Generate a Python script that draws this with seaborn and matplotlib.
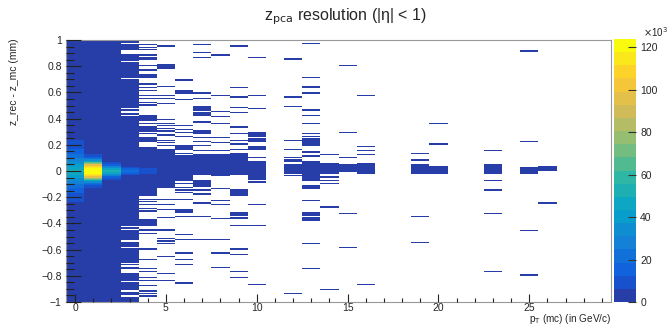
import numpy as np
import pandas as pd
import seaborn as sns
import matplotlib
matplotlib.use("Agg")
import matplotlib.pyplot as plt
from matplotlib.colors import ListedColormap
from matplotlib.ticker import MultipleLocator, FuncFormatter

# binning: pT 1 GeV/c bins from -0.5 to 29.5, dz 0.01 mm bins from -1 to 1
n_pt = 30
n_dz = 200
z_max = 124000

# entries per 0.01 mm bin around dz = 0, going outwards (both sides)
core_pt0 = [50000, 48000, 46000, 43000, 40000, 37000, 34000, 31000, 28000, 26000,
            24000, 22000, 20000, 18000, 16500, 15000, 13500, 12000, 11000, 10000,
            9000, 8000, 7000, 6500, 5000]
core_pt1 = [123000, 121000, 117000, 110000, 98000, 80000, 62000, 47000, 34000,
            24000, 17000, 11000, 7500, 5000]
core_pt2 = [50000, 44000, 34000, 25000, 17000, 11000, 7000, 5000]
core_pt3 = [21000, 15000, 8000]
core_pt4 = [10000, 7000]

# columns filled over the whole dz range
full_pt = [0, 1, 2]
base_count = 800

# filled dz ranges (mm) for the other pT columns: (low, high)
seg_pt3 = [(0.98, 0.98), (1.0, 1.0), (0.92, 0.96), (0.84, 0.88), (0.79, 0.82),
           (0.71, 0.78), (0.48, 0.69), (0.46, 0.46), (0.43, 0.43), (-0.42, 0.41),
           (-0.44, -0.44), (-0.52, -0.46), (-0.53, -0.53), (-0.55, -0.55),
           (-0.58, -0.56), (-0.60, -0.60), (-0.69, -0.61), (-0.70, -0.70),
           (-0.72, -0.72), (-0.75, -0.74), (-0.84, -0.79), (-0.91, -0.86),
           (-0.95, -0.93), (-1.0, -0.97)]
seg_pt4 = [(0.96, 0.96), (0.94, 0.94), (0.92, 0.92), (0.88, 0.88), (0.86, 0.86),
           (0.85, 0.85), (0.80, 0.80), (0.76, 0.77), (0.71, 0.73), (0.66, 0.66),
           (0.63, 0.63), (0.61, 0.61), (0.57, 0.57), (0.55, 0.55), (0.52, 0.52),
           (0.50, 0.50), (0.38, 0.42), (0.36, 0.36), (0.30, 0.33), (0.28, 0.28),
           (0.22, 0.25), (0.17, 0.17), (-0.18, 0.16), (-0.19, -0.19), (-0.22, -0.22),
           (-0.24, -0.24), (-0.26, -0.26), (-0.29, -0.29), (-0.31, -0.31),
           (-0.42, -0.38), (-0.46, -0.45), (-0.48, -0.48), (-0.60, -0.60),
           (-0.68, -0.68), (-0.75, -0.75), (-0.77, -0.77), (-0.82, -0.82),
           (-0.84, -0.84), (-0.88, -0.88), (-0.92, -0.92), (-0.94, -0.94),
           (-0.96, -0.96)]
seg_pt5 = [(0.95, 0.95), (0.78, 0.81), (0.64, 0.64), (0.57, 0.57), (0.55, 0.55),
           (0.51, 0.51), (0.39, 0.39), (0.36, 0.36), (0.34, 0.34), (0.32, 0.32),
           (0.30, 0.30), (0.27, 0.27), (0.23, 0.23), (0.21, 0.21), (0.19, 0.19),
           (0.16, 0.16), (-0.12, 0.15), (-0.13, -0.13), (-0.22, -0.22),
           (-0.26, -0.26), (-0.30, -0.30), (-0.36, -0.36), (-0.45, -0.45),
           (-0.46, -0.46), (-0.52, -0.52), (-0.54, -0.54), (-0.56, -0.56),
           (-0.66, -0.66), (-0.79, -0.79), (-0.84, -0.84)]
seg_pt6 = [(0.69, 0.69), (0.61, 0.61), (0.59, 0.60), (0.54, 0.54), (0.34, 0.34),
           (0.31, 0.31), (0.29, 0.29), (0.26, 0.26), (0.16, 0.19), (0.13, 0.13),
           (-0.07, 0.11), (-0.08, -0.08), (-0.10, -0.10), (-0.13, -0.13),
           (-0.15, -0.15), (-0.17, -0.17), (-0.22, -0.22), (-0.32, -0.30),
           (-0.35, -0.35), (-0.49, -0.49), (-0.53, -0.53), (-0.63, -0.63),
           (-0.68, -0.68), (-0.72, -0.72), (-0.86, -0.86)]
seg_pt7 = [(0.99, 0.99), (0.96, 0.96), (0.90, 0.90), (0.86, 0.86), (0.59, 0.59),
           (0.55, 0.55), (0.46, 0.49), (0.42, 0.44), (0.37, 0.37), (0.28, 0.30),
           (0.25, 0.25), (0.22, 0.22), (0.19, 0.19), (0.15, 0.15), (-0.03, 0.12),
           (-0.12, -0.08), (-0.15, -0.15), (-0.18, -0.18), (-0.25, -0.25),
           (-0.35, -0.35), (-0.53, -0.53)]
seg_pt8 = [(0.88, 0.88), (0.57, 0.57), (0.45, 0.45), (0.41, 0.41), (0.36, 0.36),
           (0.25, 0.25), (0.21, 0.21), (0.15, 0.15), (-0.04, 0.12), (-0.14, -0.14),
           (-0.23, -0.23), (-0.26, -0.26), (-0.37, -0.37), (-0.53, -0.53),
           (-0.63, -0.63), (-0.74, -0.74)]
seg_pt9 = [(0.95, 0.95), (0.63, 0.63), (0.56, 0.56), (0.48, 0.48), (0.44, 0.44),
           (0.33, 0.33), (0.28, 0.28), (0.23, 0.23), (0.20, 0.20), (0.16, 0.16),
           (-0.03, 0.13), (-0.19, -0.15), (-0.34, -0.32), (-0.36, -0.36),
           (-0.37, -0.37), (-0.42, -0.42), (-0.60, -0.60), (-0.64, -0.64),
           (-0.77, -0.77), (-0.82, -0.82)]
seg_pt10 = [(0.86, 0.86), (0.57, 0.57), (0.47, 0.47), (0.26, 0.29), (0.22, 0.24),
            (0.16, 0.18), (0.10, 0.10), (-0.07, 0.07), (-0.09, -0.09),
            (-0.26, -0.26), (-0.42, -0.42), (-0.87, -0.87)]
seg_pt12 = [(0.85, 0.85), (0.56, 0.56), (0.49, 0.49), (0.23, 0.23), (0.16, 0.16),
            (0.10, 0.10), (0.08, 0.08), (0.07, 0.07), (-0.02, 0.04), (-0.04, -0.04),
            (-0.94, -0.94)]
seg_pt13 = [(0.97, 0.97), (0.71, 0.71), (0.63, 0.64), (0.59, 0.59), (0.46, 0.46),
            (0.42, 0.42), (0.36, 0.36), (0.28, 0.28), (0.26, 0.26), (0.19, 0.24),
            (0.14, 0.14), (0.11, 0.11), (-0.08, 0.07), (-0.14, -0.12),
            (-0.23, -0.23), (-0.34, -0.32), (-0.38, -0.36), (-0.56, -0.56),
            (-0.75, -0.75)]
seg_pt14 = [(0.12, 0.12), (-0.02, 0.05), (-0.05, -0.05), (-0.08, -0.08),
            (-0.10, -0.10), (-0.28, -0.28), (-0.91, -0.91)]
seg_pt15 = [(0.80, 0.80), (0.29, 0.29), (0.10, 0.10), (-0.01, 0.04),
            (-0.33, -0.33), (-0.59, -0.59)]
seg_pt16 = [(0.57, 0.57), (0.18, 0.18), (0.15, 0.15), (0.12, 0.12),
            (-0.02, 0.05), (-0.87, -0.87)]
seg_pt19 = [(0.13, 0.13), (0.08, 0.08), (-0.02, 0.04), (-0.35, -0.35),
            (-0.55, -0.55)]
seg_pt20 = [(0.36, 0.36), (0.20, 0.20), (-0.02, 0.03)]
seg_pt23 = [(0.15, 0.15), (-0.01, 0.04), (-0.02, -0.02), (-0.08, -0.08),
            (-0.15, -0.15), (-0.33, -0.33), (-0.77, -0.77)]
seg_pt25 = [(0.91, 0.91), (0.22, 0.22), (-0.02, 0.02), (-0.46, -0.46),
            (-0.80, -0.80)]
seg_pt26 = [(0.0, 0.03), (-0.25, -0.25)]

segments = {3: seg_pt3, 4: seg_pt4, 5: seg_pt5, 6: seg_pt6, 7: seg_pt7,
            8: seg_pt8, 9: seg_pt9, 10: seg_pt10, 12: seg_pt12, 13: seg_pt13,
            14: seg_pt14, 15: seg_pt15, 16: seg_pt16, 19: seg_pt19, 20: seg_pt20,
            23: seg_pt23, 25: seg_pt25, 26: seg_pt26}
cores = {0: core_pt0, 1: core_pt1, 2: core_pt2, 3: core_pt3, 4: core_pt4}


def dz_index(v):
    return min(n_dz - 1, int(np.floor((v + 1) * 100 + 1e-6)))


cells = np.zeros((n_pt, n_dz))
for c in full_pt:
    cells[c, :] = base_count
for c, segs in segments.items():
    for lo, hi in segs:
        cells[c, dz_index(lo):dz_index(hi) + 1] = np.maximum(
            cells[c, dz_index(lo):dz_index(hi) + 1], 1)
for c, prof in cores.items():
    for k, v in enumerate(prof):
        cells[c, n_dz // 2 + k] = v
        cells[c, n_dz // 2 - 1 - k] = v

ic, iz = np.nonzero(cells)
df = pd.DataFrame({
    "pt": ic.astype(float),
    "dz": -1 + (iz + 0.5) * 0.01,
    "w": cells[ic, iz],
})

# ROOT kBird palette, 20 contour levels
bird_stops = [0.0, 0.125, 0.25, 0.375, 0.5, 0.625, 0.75, 0.875, 1.0]
bird_r = [0.2082, 0.0592, 0.0780, 0.0232, 0.1802, 0.5301, 0.8186, 0.9956, 0.9764]
bird_g = [0.1664, 0.3599, 0.5041, 0.6419, 0.7178, 0.7492, 0.7328, 0.7862, 0.9832]
bird_b = [0.5293, 0.8684, 0.8385, 0.7914, 0.6425, 0.4662, 0.3499, 0.1968, 0.0539]
n_levels = 20
pos = [int((i + 0.99) * 255 / n_levels) / 254 for i in range(n_levels)]
bird = ListedColormap([(np.interp(p, bird_stops, bird_r),
                        np.interp(p, bird_stops, bird_g),
                        np.interp(p, bird_stops, bird_b)) for p in pos])

sns.set_style("white")
plt.rcParams["font.family"] = ["Liberation Sans", "DejaVu Sans"]
plt.rcParams["axes.unicode_minus"] = True

W, H = 668, 327
fig = plt.figure(figsize=(W / 100, H / 100), dpi=100)
ax = fig.add_axes([66 / W, 1 - 302 / H, 545 / W, 262 / H])
cax = fig.add_axes([614 / W, 1 - 302 / H, 22 / W, 263 / H])

sns.histplot(data=df, x="pt", y="dz", weights="w", bins=(n_pt, n_dz),
             binrange=((-0.5, 29.5), (-1, 1)), cmap=bird, vmin=0, vmax=z_max,
             cbar=True, cbar_ax=cax, ax=ax)

ax.set_axisbelow(False)
cax.set_axisbelow(False)
ax.set_xlim(-0.5, 29.5)
ax.set_ylim(-1, 1)
ax.set_xlabel("")
ax.set_ylabel("")
ax.xaxis.set_major_locator(MultipleLocator(5))
ax.xaxis.set_minor_locator(MultipleLocator(1))
ax.yaxis.set_major_locator(MultipleLocator(0.2))
ax.yaxis.set_minor_locator(MultipleLocator(0.05))


def fmt(v, p):
    v = round(v, 2)
    if v == 0:
        return "0"
    return f"{v:g}".replace("-", "\u2212")


ax.yaxis.set_major_formatter(FuncFormatter(fmt))
ax.xaxis.set_major_formatter(FuncFormatter(fmt))
ax.tick_params(axis="y", which="major", direction="in", length=11, width=0.8,
               labelsize=7.5, pad=3, left=True, right=False, color="#222222")
ax.tick_params(axis="y", which="minor", direction="in", length=5.5, width=0.8,
               left=True, right=False, color="#222222")
ax.tick_params(axis="x", which="major", direction="in", length=6, width=0.8,
               labelsize=7.5, pad=1, bottom=True, top=False, color="#222222")
ax.tick_params(axis="x", which="minor", direction="in", length=3, width=0.8,
               bottom=True, top=False, color="#222222")
for s in ax.spines.values():
    s.set_color("#999999")
    s.set_linewidth(0.8)
    s.set_visible(True)

cax.set_ylim(0, z_max)
cax.yaxis.set_major_locator(MultipleLocator(20000))
cax.yaxis.set_minor_locator(MultipleLocator(100000000))
cax.yaxis.set_major_formatter(FuncFormatter(lambda v, p: f"{v / 1000:g}"))
cax.tick_params(axis="y", which="major", direction="in", length=5.5, width=0.8,
                labelsize=7.5, pad=3, right=True, left=False, color="#333333")
for s in cax.spines.values():
    s.set_visible(False)

fig.text(346 / W, 1 - 17 / H, "z$_{\\rm pca}$ resolution (|\u03b7| < 1)",
         ha="center", va="center", fontsize=11.5)
fig.text(14 / W, 1 - 38 / H, "z_rec - z_mc (mm)", rotation=90,
         ha="center", va="top", fontsize=7.5)
fig.text(611 / W, 0.002, r"p$_{\rm T}$ (mc) (in GeV/c)",
         ha="right", va="bottom", fontsize=7.2)
fig.text(643 / W, 1 - 32 / H, r"$\times$10$^{3}$", ha="left", va="center",
         fontsize=7)

fig.savefig("out.png", dpi=100)
